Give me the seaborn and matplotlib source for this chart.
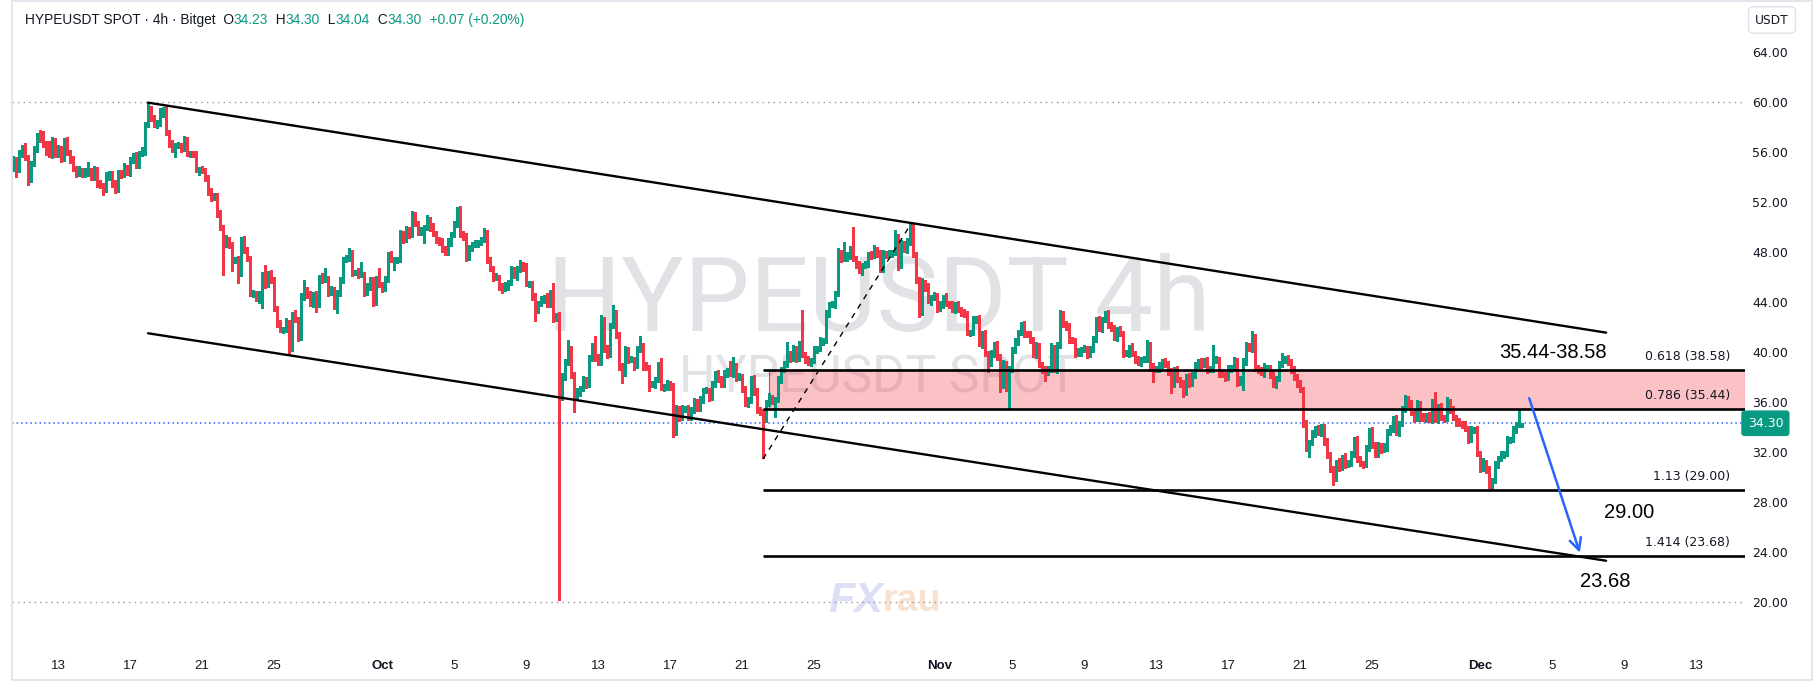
import numpy as np
import pandas as pd
import matplotlib
matplotlib.use("Agg")
import matplotlib.pyplot as plt
import matplotlib.dates as mdates
import matplotlib.transforms as mtrans
from matplotlib.patches import Rectangle
import seaborn as sns

# ---------------- data ----------------
bar_start = "2025-09-10 12:00"   # first 4h candle
first_open = 54.7

closes = [
    # Sep 10 12:00 -> Sep 24 08:00
    55.4, 54.7, 55.8, 56.4, 55.6, 53.9, 55.1, 56.2, 57.4, 57.0, 56.7, 56.0,
    55.8, 56.9, 55.8, 56.3, 55.5, 56.7, 56.0, 55.4, 54.7, 54.3, 54.5, 54.2,
    54.4, 54.5, 54.0, 54.6, 53.5, 53.3, 53.0, 54.0, 54.3, 53.5, 53.0, 54.4,
    54.2, 54.8, 54.4, 55.3, 55.7, 54.9, 55.9, 56.0, 58.2, 59.4, 58.8, 58.2,
    58.3, 59.0, 59.1, 57.6, 56.7, 56.2, 56.5, 56.5, 56.3, 56.9, 55.9, 55.9,
    55.8, 54.6, 54.6, 54.5, 54.0, 52.8, 52.4, 52.5, 51.1, 50.0, 48.7, 49.0,
    48.5, 47.3, 47.4, 46.3, 48.9, 48.2, 47.5, 44.7, 44.7, 44.3, 44.6, 46.1,
    # Sep 24 12:00 -> Oct 8 12:00
    45.4, 46.2, 45.8, 43.5, 42.3, 41.8, 41.8, 42.4, 40.4, 43.1, 42.6, 41.2,
    44.4, 45.0, 44.6, 43.9, 44.6, 43.8, 46.0, 45.8, 45.9, 44.8, 45.0, 43.7,
    44.7, 45.8, 47.4, 47.5, 48.0, 46.4, 46.4, 46.2, 46.2, 44.8, 45.2, 45.8,
    44.0, 45.8, 45.4, 45.1, 45.8, 47.8, 47.4, 47.4, 47.4, 49.5, 49.0, 49.8,
    49.4, 51.0, 50.3, 49.6, 49.7, 50.0, 50.6, 50.0, 49.5, 49.0, 48.8, 48.3,
    48.0, 48.8, 49.4, 50.2, 51.4, 49.5, 49.2, 47.6, 48.4, 48.6, 48.7, 48.8,
    49.0, 49.5, 47.4, 46.7, 46.0, 46.0, 45.3, 45.1, 45.3, 45.6, 46.6, 46.1,
    46.6,
    # Oct 8 16:00 -> Oct 22 04:00
    47.0, 46.8, 45.5, 45.5, 44.4, 43.3, 43.9, 44.2, 44.4, 43.8, 44.8, 42.7,
    42.9, 37.8, 38.0, 39.2, 40.2, 38.2, 36.4, 36.8, 37.1, 37.8, 37.4, 39.5,
    40.4, 39.6, 39.2, 42.6, 40.3, 39.8, 42.1, 42.6, 41.4, 38.8, 38.3, 40.2,
    39.4, 39.4, 38.9, 40.2, 40.5, 38.9, 38.8, 37.4, 37.4, 37.8, 38.9, 37.2,
    37.2, 37.5, 37.3, 33.6, 35.5, 34.8, 35.5, 35.5, 34.8, 35.4, 36.0, 35.5,
    36.2, 36.9, 36.9, 36.4, 37.4, 38.3, 37.9, 37.4, 38.3, 38.5, 38.3, 38.9,
    38.0, 38.0, 37.1, 35.9, 36.1, 37.9, 36.9, 35.3, 35.2, 34.7, 35.9,
    # Oct 22 08:00 -> Nov 4 12:00
    36.4, 36.1, 36.2, 37.8, 38.6, 39.0, 39.9, 39.5, 40.3, 39.5, 40.6, 39.8,
    39.4, 39.2, 39.3, 40.2, 40.3, 40.9, 40.9, 43.1, 43.8, 43.8, 44.7, 48.0,
    47.5, 47.5, 47.7, 48.3, 47.5, 47.0, 46.5, 46.9, 47.0, 47.8, 47.7, 48.2,
    47.9, 46.6, 47.9, 47.8, 47.9, 48.0, 49.2, 46.9, 48.7, 48.2, 48.8, 49.9,
    47.8, 45.8, 43.2, 45.6, 45.2, 44.1, 44.4, 44.5, 43.5, 43.8, 44.4, 43.9,
    43.8, 43.4, 43.8, 43.4, 43.2, 43.0, 41.6, 41.6, 42.6, 42.7, 40.7, 41.5,
    39.9, 39.1, 39.9, 40.6, 39.6, 37.4, 39.1,
    # Nov 4 16:00 -> Nov 19 08:00
    37.2, 38.6, 40.2, 40.8, 41.6, 42.2, 41.5, 41.4, 41.0, 39.8, 40.5, 39.0,
    38.6, 38.4, 38.7, 40.4, 38.6, 40.5, 43.0, 42.3, 42.0, 41.0, 40.9, 39.9,
    40.0, 40.2, 40.3, 39.8, 40.3, 41.0, 42.6, 41.9, 42.6, 43.1, 42.2, 41.9,
    41.2, 41.8, 41.5, 39.9, 39.9, 40.4, 39.9, 39.4, 39.2, 39.4, 39.5, 40.6,
    38.8, 38.6, 38.7, 38.9, 39.2, 39.1, 38.4, 37.5, 38.6, 37.8, 37.5, 36.8,
    38.0, 37.5, 38.2, 38.9, 39.2, 39.0, 39.3, 38.6, 38.7, 39.3, 39.4, 38.3,
    38.2, 38.0, 38.7, 38.8, 39.3, 37.6, 37.8, 39.3, 40.5, 40.3, 41.2, 38.7,
    38.6, 38.4, 38.8, 38.8,
    # Nov 19 12:00 -> Dec 3 12:00
    38.2, 37.4, 37.9, 39.0, 39.4, 39.5, 39.2, 38.6, 38.0, 37.5, 37.0, 34.3,
    32.4, 32.8, 33.5, 33.9, 33.6, 34.0, 32.8, 31.8, 30.6, 29.9, 31.2, 30.8,
    31.6, 31.0, 31.2, 31.8, 33.0, 31.5, 31.1, 31.0, 32.3, 33.7, 32.6, 31.8,
    32.5, 32.2, 32.4, 33.6, 33.9, 34.7, 33.6, 34.3, 35.4, 36.3, 35.9, 35.2,
    34.7, 35.9, 34.8, 34.7, 34.9, 34.6, 36.0, 34.6, 35.6, 34.8, 34.7, 36.0,
    35.4, 34.8, 34.4, 34.3, 34.2, 33.9, 33.0, 33.8, 33.8, 31.9, 30.7, 31.2,
    30.6, 29.6, 29.7, 31.0, 31.5, 31.8, 31.9, 33.0, 33.0, 33.8, 34.2, 34.23,
    34.30,
]

# wick lengths above / below the body, in tenths of a USDT
wick_up = [
    3, 2, 4, 2, 3, 2, 2, 3, 1, 4, 7, 2, 9, 3, 2, 3, 2, 4, 5, 2, 3, 2, 4, 2,
    3, 7, 2, 3, 2, 3, 2, 4, 2, 2, 3, 2, 2, 3, 2, 3, 2, 3, 2, 4, 2, 6, 3, 2,
    3, 5, 5, 6, 2, 3, 2, 3, 2, 4, 3, 2, 2, 3, 2, 3, 2, 2, 3, 2, 2, 3, 2, 4,
    2, 3, 2, 3, 3, 4, 2, 2, 3, 2, 3, 3,
    9, 3, 4, 2, 2, 3, 2, 3, 2, 1, 3, 2, 3, 8, 2, 3, 2, 3, 2, 3, 8, 2, 3, 2,
    3, 2, 2, 3, 3, 2, 2, 3, 10, 2, 3, 2, 2, 3, 9, 2, 3, 2, 3, 2, 2, 3, 2, 3,
    2, 3, 2, 2, 3, 2, 4, 2, 3, 2, 2, 3, 2, 3, 2, 3, 2, 3, 2, 3, 2, 2, 3, 2,
    2, 4, 3, 2, 2, 3, 2, 2, 3, 2, 3, 2, 3,
    4, 2, 3, 2, 2, 3, 2, 3, 2, 3, 2, 7, 2, 3, 3, 2, 8, 3, 2, 3, 2, 3, 2, 3,
    3, 9, 2, 4, 2, 3, 2, 12, 8, 2, 3, 3, 2, 3, 2, 3, 8, 2, 3, 2, 3, 2, 3, 6,
    2, 3, 2, 2, 3, 2, 3, 2, 3, 2, 3, 2, 3, 2, 3, 2, 3, 2, 3, 2, 3, 2, 8, 7,
    2, 3, 2, 2, 3, 2, 3, 2, 3, 2, 3,
    3, 2, 2, 3, 2, 3, 9, 2, 3, 2, 3, 28, 2, 3, 2, 3, 2, 3, 2, 3, 2, 3, 2, 3,
    2, 13, 3, 2, 17, 2, 3, 2, 3, 2, 3, 4, 2, 3, 3, 2, 3, 2, 6, 2, 3, 2, 3, 5,
    4, 2, 2, 3, 2, 3, 2, 3, 2, 3, 2, 3, 2, 3, 2, 3, 2, 2, 3, 2, 3, 2, 3, 2,
    3, 2, 3, 2, 3, 2, 3,
    2, 3, 2, 3, 2, 2, 3, 2, 3, 2, 3, 2, 2, 3, 2, 3, 2, 3, 4, 3, 2, 3, 2, 2,
    3, 2, 3, 2, 2, 3, 2, 3, 2, 2, 3, 2, 3, 2, 3, 2, 3, 2, 3, 2, 3, 2, 2, 4,
    2, 3, 2, 3, 2, 3, 2, 3, 2, 3, 2, 3, 2, 3, 2, 3, 2, 3, 2, 3, 2, 13, 3, 2,
    3, 2, 3, 2, 3, 2, 3, 2, 3, 2, 5, 2, 3, 2, 3, 2,
    2, 3, 2, 3, 5, 2, 3, 2, 3, 2, 3, 2, 3, 2, 3, 2, 3, 2, 2, 3, 2, 3, 2, 3,
    2, 3, 2, 3, 2, 3, 2, 2, 3, 2, 3, 2, 3, 2, 3, 2, 3, 2, 3, 2, 3, 3, 2, 3,
    2, 3, 2, 3, 2, 3, 2, 8, 2, 3, 2, 4, 2, 3, 2, 3, 2, 3, 2, 3, 2, 3, 2, 3,
    2, 3, 2, 3, 2, 3, 2, 3, 2, 3, 2, 12, 0,
]
wick_dn = [
    2, 7, 3, 2, 2, 5, 3, 2, 2, 2, 3, 2, 2, 3, 2, 2, 3, 2, 2, 3, 2, 3, 2, 2,
    2, 3, 2, 2, 3, 2, 4, 2, 2, 3, 3, 2, 3, 2, 2, 3, 2, 2, 2, 2, 2, 2, 3, 2,
    3, 2, 2, 2, 3, 2, 6, 2, 3, 2, 2, 3, 2, 2, 4, 2, 3, 2, 3, 2, 3, 2, 25, 3,
    2, 8, 2, 8, 2, 3, 2, 2, 3, 2, 4, 11,
    3, 2, 3, 2, 3, 2, 3, 2, 6, 3, 2, 3, 2, 2, 3, 2, 3, 6, 2, 3, 2, 3, 2, 3,
    6, 2, 3, 2, 2, 3, 2, 3, 2, 3, 2, 2, 3, 2, 2, 3, 2, 2, 2, 8, 3, 2, 3, 2,
    3, 2, 2, 2, 2, 10, 2, 3, 2, 3, 2, 3, 2, 2, 3, 2, 2, 3, 2, 3, 2, 3, 2, 3,
    2, 2, 3, 2, 3, 2, 3, 4, 2, 3, 2, 2, 3,
    2, 3, 2, 3, 2, 8, 2, 2, 3, 2, 2, 3, 2, 176, 16, 2, 2, 3, 12, 2, 3, 2, 3, 2,
    2, 3, 2, 2, 3, 3, 2, 2, 3, 2, 8, 2, 3, 2, 3, 2, 2, 3, 2, 5, 2, 3, 2, 2,
    3, 2, 3, 4, 2, 3, 2, 3, 2, 2, 3, 2, 2, 3, 2, 3, 2, 2, 3, 2, 2, 3, 2, 3,
    3, 2, 3, 2, 3, 2, 3, 2, 2, 32, 3,
    2, 3, 13, 2, 3, 2, 2, 3, 2, 3, 2, 2, 3, 2, 3, 2, 3, 2, 3, 2, 3, 2, 3, 2,
    3, 2, 2, 3, 2, 3, 2, 3, 2, 2, 3, 2, 3, 2, 2, 3, 2, 3, 2, 3, 2, 2, 3, 2,
    2, 3, 4, 2, 3, 2, 3, 2, 3, 2, 3, 2, 3, 2, 3, 2, 3, 2, 2, 3, 2, 3, 2, 4,
    2, 7, 2, 3, 2, 6, 3,
    3, 17, 2, 3, 2, 2, 3, 2, 3, 2, 3, 2, 3, 7, 2, 3, 2, 3, 2, 3, 2, 3, 2, 3,
    2, 3, 2, 3, 2, 3, 2, 2, 3, 2, 3, 2, 2, 3, 2, 3, 2, 3, 2, 3, 2, 3, 2, 3,
    3, 10, 2, 3, 2, 3, 2, 8, 3, 2, 3, 4, 2, 3, 2, 3, 2, 3, 2, 3, 2, 3, 2, 3,
    2, 3, 2, 3, 2, 3, 2, 8, 3, 2, 3, 2, 3, 2, 4, 3,
    3, 2, 3, 2, 2, 3, 2, 3, 2, 3, 2, 3, 3, 8, 2, 3, 2, 3, 2, 3, 2, 5, 2, 3,
    2, 3, 2, 3, 2, 3, 2, 3, 2, 2, 3, 2, 2, 3, 2, 3, 2, 3, 2, 3, 2, 2, 3, 2,
    3, 2, 3, 2, 3, 2, 3, 2, 3, 2, 3, 2, 3, 2, 3, 2, 3, 2, 3, 2, 3, 2, 3, 2,
    3, 5, 6, 2, 3, 2, 3, 2, 3, 2, 3, 2, 2,
]

price_ticks = [20, 24, 28, 32, 36, 40, 44, 48, 52, 56, 60, 64]
date_ticks = ["2025-09-13", "2025-09-17", "2025-09-21", "2025-09-25", "2025-10-01",
              "2025-10-05", "2025-10-09", "2025-10-13", "2025-10-17", "2025-10-21",
              "2025-10-25", "2025-11-01", "2025-11-05", "2025-11-09", "2025-11-13",
              "2025-11-17", "2025-11-21", "2025-11-25", "2025-12-01", "2025-12-05",
              "2025-12-09", "2025-12-13"]
date_labels = ["13", "17", "21", "25", "Oct", "5", "9", "13", "17", "21", "25",
               "Nov", "5", "9", "13", "17", "21", "25", "Dec", "5", "9", "13"]

last_price = 34.30
marks = [60.0, 20.0]                       # dotted high / low marks

fib_ratios = ["0.618", "0.786", "1.13", "1.414"]
fib_prices = [38.58, 35.44, 29.00, 23.68]
fib_start = "2025-10-22 04:00"
zone_start = "2025-10-22 12:00"
swing_t = ["2025-10-22 04:00", "2025-10-30 08:00"]
swing_p = [31.44, 50.13]

chan_t = ["2025-09-18 00:00", "2025-12-08 00:00", "2025-09-18 00:00", "2025-12-08 00:00"]
chan_p = [59.95, 41.55, 41.5, 23.3]
chan_id = ["top", "top", "bottom", "bottom"]

arrow_t = ["2025-12-03 17:30", "2025-12-06 13:00"]
arrow_p = [36.3, 23.94]

notes = ["35.44-38.58", "29.00", "23.68"]
notes_t = ["2025-12-05 01:00", "2025-12-09 07:00", "2025-12-07 23:00"]
notes_p = [39.92, 27.14, 21.66]

header = [("HYPEUSDT SPOT · 4h · Bitget  O", "dark"), ("34.23", "green"),
          ("  H", "dark"), ("34.30", "green"), ("  L", "dark"), ("34.04", "green"),
          ("  C", "dark"), ("34.30", "green"), ("  +0.07 (+0.20%)", "green")]

# ---------------- figure ----------------
W, H = 1817, 695
GREEN, RED, DARK, BLUE = "#089981", "#f23645", "#131722", "#2962ff"

sns.set_theme(style="white")
plt.rcParams["font.family"] = ["Liberation Sans", "DejaVu Sans"]

fig = plt.figure(figsize=(W / 100, H / 100), dpi=100)
fig.patch.set_facecolor("white")
ax = fig.add_axes([12 / W, 1 - 650 / H, (1745 - 12) / W, 649 / H])
ax.set_facecolor("white")
for s in ax.spines.values():
    s.set_visible(False)

def tnum(s):
    return mdates.date2num(pd.Timestamp(s))

t0 = tnum(bar_start)
step = 4 / 24
c = np.array(closes)
o = np.r_[first_open, c[:-1]]
hi = np.maximum(o, c) + np.array(wick_up) / 10
lo = np.minimum(o, c) - np.array(wick_dn) / 10
x = t0 + np.arange(len(c)) * step
cols = np.where(c >= o, GREEN, RED)

x_lo, x_hi = t0 - 0.33 * step, t0 + 577.3 * step
ax.set_xlim(x_lo, x_hi)
ax.set_ylim(16.16, 68.08)

# watermarks
ax.text(0.5, 0.536, "HYPEUSDT 4h", transform=ax.transAxes, ha="center", va="center",
        fontsize=75, color="#e1e2e6", family="Roboto", zorder=0)
ax.text(0.5, 0.418, "HYPEUSDT SPOT", transform=ax.transAxes, ha="center", va="center",
        fontsize=37, color="#e1e2e6", family="Roboto", zorder=0)
fx = ax.text(0.5025, 0.075, "FX", transform=ax.transAxes, ha="right", va="center",
             fontsize=31, color="#dcdff6", weight="bold", style="italic", zorder=0)
ax.annotate("rau", xy=(1, 0.05), xycoords=fx, va="bottom", ha="left",
            fontsize=27, color="#f8e2cf", weight="bold", zorder=0)

# dotted marks and last-price line
ax.hlines(marks, x_lo, x_hi, colors="#9598a1", lw=1, linestyles=(0, (1, 3)), zorder=1)
ax.hlines(last_price, x_lo, x_hi, colors=BLUE, lw=1.1, linestyles=(0, (1, 2)), zorder=1)

# pink zone between 0.618 and 0.786
z0 = tnum(zone_start)
ax.add_patch(Rectangle((z0, fib_prices[1]), x_hi - z0, fib_prices[0] - fib_prices[1],
                       facecolor=(242 / 255, 54 / 255, 69 / 255, 0.3), edgecolor=RED,
                       lw=0.8, zorder=1.5))

# candles
ax.vlines(x, lo, hi, colors=cols, lw=1.0, zorder=2, antialiased=False)
ax.bar(x, np.maximum(np.abs(c - o), 0.05), bottom=np.minimum(o, c), width=step * 0.75,
       color=cols, linewidth=0, zorder=3, antialiased=False)

# channel and swing line
chan = pd.DataFrame({"t": [tnum(s) for s in chan_t], "p": chan_p, "line": chan_id})
sns.lineplot(data=chan, x="t", y="p", units="line", estimator=None, color="black",
             lw=1.7, ax=ax, legend=False, zorder=4)
swing = pd.DataFrame({"t": [tnum(s) for s in swing_t], "p": swing_p})
sns.lineplot(data=swing, x="t", y="p", color="black", lw=1, ax=ax,
             linestyle=(0, (4, 4)), zorder=4)
ax.set_xlabel("")
ax.set_ylabel("")

# fib levels
f0 = tnum(fib_start)
ax.hlines(fib_prices, f0, x_hi, colors="black", lw=1.9, zorder=4)
xr = mtrans.blended_transform_factory(ax.transAxes, ax.transData)
for r, p in zip(fib_ratios, fib_prices):
    ax.annotate(f"{r} ({p:.2f})", xy=(0.9913, p), xycoords=xr, xytext=(0, 5),
                textcoords="offset points", ha="right", va="bottom", fontsize=9,
                family="DejaVu Sans", color=DARK, zorder=5)

for s, t, p in zip(notes, notes_t, notes_p):
    ax.text(tnum(t), p, s, ha="center", va="center", fontsize=14.5, color="black", zorder=5)

ax.annotate("", xy=(tnum(arrow_t[1]), arrow_p[1]), xytext=(tnum(arrow_t[0]), arrow_p[0]),
            arrowprops=dict(arrowstyle="->,head_length=0.7,head_width=0.35", color=BLUE,
                            lw=1.8, shrinkA=0, shrinkB=0), zorder=5)

# axes ticks
lift = mtrans.ScaledTranslation(0, 3 / 72, fig.dpi_scale_trans)
ax.yaxis.tick_right()
ax.set_yticks(price_ticks)
ax.set_yticklabels([f"{p:.2f}" for p in price_ticks], family="DejaVu Sans",
                   fontsize=9, color="#131722")
for lab in ax.get_yticklabels():
    lab.set_transform(lab.get_transform() + lift)
ax.tick_params(axis="y", length=0, pad=5)
ax.set_xticks([tnum(d) for d in date_ticks])
ax.set_xticklabels(date_labels, fontsize=9.5, color=DARK)
for lab in ax.get_xticklabels():
    if not lab.get_text().isdigit():
        lab.set_fontweight("bold")
ax.tick_params(axis="x", length=0, pad=7)
ax.grid(False)

ax.text(1.0015, last_price, f"{last_price:.2f}", transform=xr, ha="left", va="center",
        fontsize=9, family="DejaVu Sans", color="white", zorder=6, clip_on=False,
        bbox=dict(boxstyle="round,pad=0.45,rounding_size=0.2", fc=GREEN, ec=GREEN))

# header
pal = {"dark": DARK, "green": GREEN}
prev = fig.text(25 / W, 1 - 20 / H, header[0][0], ha="left", va="center",
                fontsize=9.9, color=pal[header[0][1]])
for s, k in header[1:]:
    prev = ax.annotate(s, xy=(1, 0), xycoords=prev, ha="left", va="bottom",
                       fontsize=9.9, color=pal[k], annotation_clip=False)

fig.text(1772 / W, 1 - 20 / H, "USDT", ha="center", va="center", fontsize=8.8,
         family="DejaVu Sans", color=DARK,
         bbox=dict(boxstyle="round,pad=0.55,rounding_size=0.4", fc="white", ec="#e0e3eb"))

# outer frame
fig.add_artist(Rectangle((12 / W, 1 - 680 / H), 1800 / W, 679 / H, transform=fig.transFigure,
                         fill=False, ec="#e0e3eb", lw=1.3))

fig.savefig("out.png", dpi=100, facecolor="white")
